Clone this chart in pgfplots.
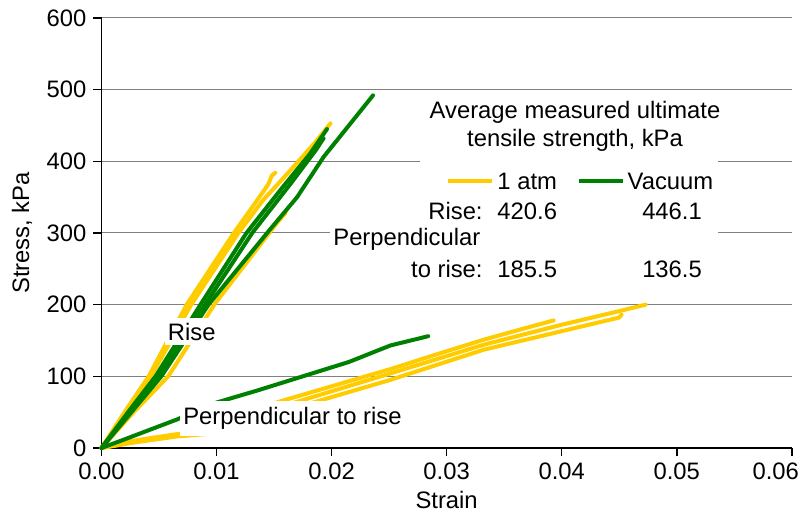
\documentclass[border=0pt]{standalone}
\usepackage{fontspec}
\setmainfont{Liberation Sans}
\usepackage{pgfplots}
\pgfplotsset{compat=1.18}
\definecolor{yel}{RGB}{255,204,0}
\definecolor{grn}{RGB}{0,128,0}
\newcommand\cf{\fontsize{11.9}{14}\selectfont}
\begin{document}
\begin{tikzpicture}
\begin{axis}[
    scale only axis,
    width=345.15pt, height=215pt,
    xmin=0, xmax=0.06, ymin=0, ymax=600,
    xtick={0,0.01,0.02,0.03,0.04,0.05,0.06},
    xticklabels={0.00,0.01,0.02,0.03,0.04,0.05,{\hspace*{-16pt}0.06}},
    scaled x ticks=false,
    ytick={0,100,200,300,400,500,600},
    /pgf/number format/assume math mode=true,
    axis lines=left,
    axis line style={-, line width=0.75pt},
    tick style={black, line width=0.75pt},
    tick align=outside,
    major tick length=4pt,
    ymajorgrids,
    grid style={gray, line width=0.5pt},
    ticklabel style={font=\cf},
    label style={font=\cf},
    xlabel={Strain},
    ylabel={Stress, kPa},
    xlabel style={at={(axis description cs:0.5,-0.121)}, anchor=center},
    ylabel style={at={(axis description cs:-0.1152,0.5)}, anchor=center, rotate=0},
    clip=false,
    every axis plot/.append style={line width=2pt, line join=round, line cap=round},
]
\coordinate (sw) at (rel axis cs:0,0);
\coordinate (ne) at (rel axis cs:1,1);

% parallel to rise, 1 atm
\addplot[yel] coordinates {(0,0) (0.0022,52) (0.0043,100) (0.0078,200) (0.0119,300) (0.0140,345) (0.0160,380) (0.0185,425) (0.0199,453)};
\addplot[yel] coordinates {(0,0) (0.0020,50) (0.0041,100) (0.0074,200) (0.0115,300) (0.0135,345) (0.0145,368) (0.0148,380) (0.0151,384)};
\addplot[yel] coordinates {(0,0) (0.0028,50) (0.0058,100) (0.0098,200) (0.0141,290) (0.0153,315) (0.0160,328)};
% perpendicular, 1 atm
\addplot[yel] coordinates {(0,0) (0.0023,9) (0.0064,19) (0.0090,22) (0.0120,42) (0.0149,62) (0.0187,80) (0.0251,110) (0.0290,130) (0.0332,151) (0.0370,168) (0.0393,178)};
\addplot[yel] coordinates {(0,0) (0.0030,9) (0.0065,17) (0.0090,21) (0.0130,40) (0.0165,62) (0.0210,84) (0.0251,104) (0.0332,144) (0.0400,172) (0.0450,191) (0.0473,200)};
\addplot[yel] coordinates {(0,0) (0.0030,8) (0.0065,16) (0.0095,20) (0.0140,40) (0.0181,62) (0.0251,95) (0.0332,137) (0.0400,163) (0.0450,182) (0.0452,186)};

% parallel to rise, vacuum
\addplot[grn] coordinates {(0,0) (0.0024,52) (0.0047,100) (0.0086,200) (0.0126,300) (0.0158,365) (0.0181,410) (0.0196,445)};
\addplot[grn] coordinates {(0,0) (0.0025,50) (0.0050,100) (0.0090,200) (0.0131,300) (0.0164,368) (0.0186,415) (0.0193,432)};
\addplot[grn] coordinates {(0,0) (0.0026,50) (0.0052,100) (0.0093,200) (0.0146,304) (0.0170,350) (0.0193,406) (0.0215,450) (0.0236,492)};
% perpendicular, vacuum
\addplot[grn] coordinates {(0,0) (0.0020,12) (0.0038,23) (0.0066,40) (0.0097,62) (0.0135,80) (0.0173,99) (0.0215,120) (0.0251,143) (0.0284,156)};

% curve labels
\node[fill=white, inner xsep=1.5pt, inner ysep=2.5pt, font=\cf] at (axis cs:0.00784,162.3) {Rise};
\node[fill=white, inner xsep=1.5pt, inner ysep=3pt, font=\cf] at (axis cs:0.0166,41.2) {Perpendicular to rise};

% strength table
\fill[white] (axis cs:0.02769,339) rectangle (axis cs:0.05359,492);
\fill[white] (axis cs:0.01986,228.8) rectangle (axis cs:0.05359,312.6);
\node[font=\cf] at (axis cs:0.04116,468.8) {Average measured ultimate};
\node[font=\cf] at (axis cs:0.04116,429.8) {tensile strength, kPa};
\draw[yel, line width=2pt] (axis cs:0.03012,372.6) -- (axis cs:0.03395,372.6);
\node[font=\cf, anchor=west, inner sep=0pt] at (axis cs:0.03438,372.6) {1 atm};
\draw[grn, line width=2pt] (axis cs:0.04151,372.6) -- (axis cs:0.04533,372.6);
\node[font=\cf, anchor=west, inner sep=0pt] at (axis cs:0.0457,372.6) {Vacuum};
\node[font=\cf, anchor=east, inner sep=0pt] at (axis cs:0.03316,330.7) {Rise:};
\node[font=\cf, anchor=west, inner sep=0pt] at (axis cs:0.03438,330.7) {420.6};
\node[font=\cf] at (axis cs:0.04959,330.7) {446.1};
\node[font=\cf, anchor=west, inner sep=0pt] at (axis cs:0.02012,291.6) {Perpendicular};
\node[font=\cf, anchor=east, inner sep=0pt] at (axis cs:0.03316,249.8) {to rise:};
\node[font=\cf, anchor=west, inner sep=0pt] at (axis cs:0.03438,249.8) {185.5};
\node[font=\cf] at (axis cs:0.04959,249.8) {136.5};
\end{axis}
\pgfresetboundingbox
\path[use as bounding box] ([shift={(-50.75pt,-33pt)}]sw) rectangle ([shift={(4.1pt,9pt)}]ne);
\end{tikzpicture}
\end{document}
